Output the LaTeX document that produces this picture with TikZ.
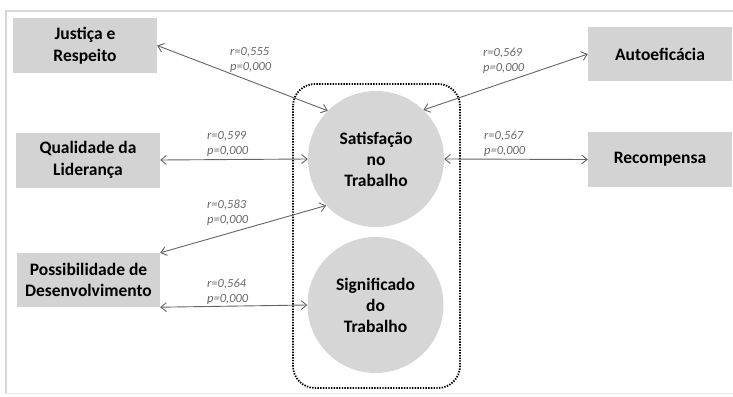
\documentclass[tikz,border=0pt]{standalone}
\usepackage{fontspec}
\setmainfont{Carlito}
\usetikzlibrary{arrows.meta}
\definecolor{boxgray}{RGB}{211,211,211}
\definecolor{circgray}{RGB}{214,214,214}
\definecolor{arrgray}{RGB}{100,100,100}
\definecolor{labgray}{RGB}{105,105,105}
\definecolor{framegray}{RGB}{215,215,215}
\tikzset{
  factor/.style={fill=boxgray, draw=none, minimum width=144pt, minimum height=55pt,
    align=center, inner sep=2pt, font=\bfseries\fontsize{17.5}{21.5}\selectfont},
  construct/.style={circle, fill=circgray, draw=none, minimum size=136pt, inner sep=0pt,
    align=center, font=\bfseries\fontsize{17.5}{21}\selectfont},
  corr/.style={anchor=west, align=left, text=labgray, inner sep=0pt,
    font=\itshape\fontsize{12.5}{15}\selectfont},
  link/.style={draw=arrgray, line width=0.9pt, {Straight Barb[length=5.5pt,width=9pt]}-{Straight Barb[length=5.5pt,width=9pt]}},
  groupbox/.style={draw=black, line width=1.8pt, dash pattern=on 1.4pt off 1.3pt, rounded corners=22pt}
}
\begin{document}
\begin{tikzpicture}[x=1pt,y=-1pt]
\useasboundingbox (0,0) rectangle (733,396);
% frame
\draw[framegray, line width=2.2pt] (6,393) -- (6,11) -- (733,11);
\draw[framegray!60, line width=1pt] (6,393) -- (733,393);
% group
\draw[groupbox] (293,84) rectangle (460,388);
% circles
\node[construct] (sat) at (376,159) {Satisfação\\no\\Trabalho};
\node[construct] (sig) at (375.5,305) {Significado\\do\\Trabalho};
% boxes
\node[factor] (jus) at (85,45.5) {Justiça e\\Respeito};
\node[factor] (qual) at (88,160) {Qualidade da\\Liderança};
\node[factor, minimum width=143pt, minimum height=54pt] (pos) at (88.5,280) {Possibilidade de\\Desenvolvimento};
\node[factor, minimum height=54pt] (auto) at (660,54) {Autoeficácia};
\node[factor] (rec) at (660,159.5) {Recompensa};
% connectors
\draw[link] (jus.east) -- (sat.135);
\draw[link] (qual.east) -- (sat.west);
\draw[link] (pos.north east) -- (sat.223);
\draw[link] (pos.south east) -- (sig.west);
\draw[link] (auto.west) -- (sat.46);
\draw[link] (rec.west) -- (sat.east);
% labels
\node[corr] (l1) at (230,59.5) {r=0,555\\p=0,000};
\node[corr] (l2) at (207,143.5) {r=0,599\\p=0,000};
\node[corr] (l3) at (207,213) {r=0,583\\p=0,000};
\node[corr] (l4) at (207,292) {r=0,564\\p=0,000};
\node[corr] (l5) at (483,60.5) {r=0,569\\p=0,000};
\node[corr] (l6) at (484,144) {r=0,567\\p=0,000};
\end{tikzpicture}
\end{document}
